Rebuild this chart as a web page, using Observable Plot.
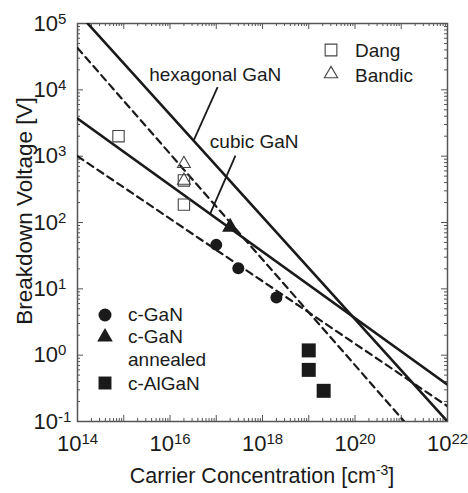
<!DOCTYPE html>
<html><head><meta charset="utf-8">
<script src="https://cdn.jsdelivr.net/npm/d3@7"></script>
<script src="https://cdn.jsdelivr.net/npm/@observablehq/plot@0.6"></script>
<style>
html,body{margin:0;padding:0;background:#fff;}
#chart{width:468px;height:493px;}
</style></head><body><div id="chart"></div>
<script>
// ---- data ----
const xTickLabels = [1e14, 1e16, 1e18, 1e20, 1e22];
const yTickLabels = [1e-1, 1e0, 1e1, 1e2, 1e3, 1e4, 1e5];

const hexN = [1e14, 1e22];        const hexV = [148000, 0.1];
const cubicN = [1e14, 1e22];      const cubicV = [3700, 0.36];
const dashUpperN = [1e14, 1e22];  const dashUpperV = [42700, 0.018];
const dashLowerN = [1e14, 1e22];  const dashLowerV = [1000, 0.17];

const dangN = [7.7e14, 2e16, 2e16];     const dangV = [2000, 430, 186];
const bandicN = [2e16, 2e16];           const bandicV = [770, 430];
const cGaN_N = [1e17, 3e17, 2e18];      const cGaN_V = [46, 20.5, 7.4];
const annealN = [2e17];                 const annealV = [85];
const alGaN_N = [1e19, 1e19, 2.1e19];   const alGaN_V = [1.18, 0.6, 0.29];

const curveLabels = ["hexagonal GaN", "cubic GaN"];
const curveLabelN = [9.5e16, 6.6e17];   const curveLabelV = [17000, 1620];
const leaderN1 = [1.07e17, 2.6e17];     const leaderV1 = [11000, 1020];
const leaderN2 = [3.24e16, 7.5e16];     const leaderV2 = [1720, 138];

const legendTop = ["Dang", "Bandic"];
const legendBottom = ["c-GaN", "c-GaN", "annealed", "c-AlGaN"];

// ---- layout ----
const W = 468, H = 493, ML = 77, MR = 21, MT = 23, MB = 72;
const PW = W - ML - MR, PH = H - MT - MB;
const FONT = '"Liberation Sans", Arial, Helvetica, sans-serif';
const INK = "#1a1a1a", AX = "#555";

const pts = (N, V) => N.map((n, i) => ({n, v: V[i]}));
const decades = (a, b) => d3.range(a, b + 1).map(e => Math.pow(10, e));
const minors = (a, b) => d3.range(a, b).flatMap(e => d3.range(2, 10).map(k => k * Math.pow(10, e)));
const xMaj = decades(14, 22), xMin = minors(14, 22);
const yMaj = decades(-1, 5), yMin = minors(-1, 5);
const fmt = d => "10^" + Math.round(Math.log10(d));

const plot = Plot.plot({
  width: W, height: H,
  marginLeft: ML, marginRight: MR, marginTop: MT, marginBottom: MB,
  style: {fontFamily: FONT, background: "#fff", color: INK},
  x: {type: "log", domain: [1e14, 1e22], axis: null},
  y: {type: "log", domain: [1e-1, 1e5], axis: null},
  marks: [
    // ticks (inward, all four sides)
    Plot.tickX(xMaj, {x: d => d, insetTop: PH - 6, stroke: AX}),
    Plot.tickX(xMin, {x: d => d, insetTop: PH - 3, stroke: AX}),
    Plot.tickX(xMaj, {x: d => d, insetBottom: PH - 6, stroke: AX}),
    Plot.tickX(xMin, {x: d => d, insetBottom: PH - 3, stroke: AX}),
    Plot.tickY(yMaj, {y: d => d, insetRight: PW - 6, stroke: AX}),
    Plot.tickY(yMin, {y: d => d, insetRight: PW - 3, stroke: AX}),
    Plot.tickY(yMaj, {y: d => d, insetLeft: PW - 6, stroke: AX}),
    Plot.tickY(yMin, {y: d => d, insetLeft: PW - 3, stroke: AX}),
    Plot.frame({stroke: AX, strokeWidth: 1.5}),
    // tick labels
    Plot.text(xTickLabels, {x: d => d, frameAnchor: "bottom", dy: 29, text: fmt, fontSize: 22, fill: INK}),
    Plot.text(yTickLabels, {y: d => d, frameAnchor: "left", dx: -44, textAnchor: "start", text: fmt, fontSize: 22, fill: INK}),
    // model lines
    Plot.line(pts(dashUpperN, dashUpperV), {x: "n", y: "v", stroke: INK, strokeWidth: 2.2, strokeDasharray: "7,5", clip: true}),
    Plot.line(pts(dashLowerN, dashLowerV), {x: "n", y: "v", stroke: INK, strokeWidth: 2.2, strokeDasharray: "7,5", clip: true}),
    Plot.line(pts(hexN, hexV), {x: "n", y: "v", stroke: INK, strokeWidth: 2.6, clip: true}),
    Plot.line(pts(cubicN, cubicV), {x: "n", y: "v", stroke: INK, strokeWidth: 2.6, clip: true}),
    // annotation leaders and labels
    Plot.link(leaderN1.map((n, i) => ({x1: n, y1: leaderV1[i], x2: leaderN2[i], y2: leaderV2[i]})),
      {x1: "x1", y1: "y1", x2: "x2", y2: "y2", stroke: INK, strokeWidth: 1.8}),
    Plot.text(curveLabels.map((t, i) => ({t, n: curveLabelN[i], v: curveLabelV[i]})),
      {x: "n", y: "v", text: "t", fontSize: 19, fill: INK}),
    // data points
    Plot.dot(pts(dangN, dangV), {x: "n", y: "v", symbol: "square", r: 6.4, fill: "none", stroke: "#444", strokeWidth: 1.1}),
    Plot.dot(pts(bandicN, bandicV), {x: "n", y: "v", symbol: "triangle", r: 4.8, fill: "none", stroke: "#444", strokeWidth: 1.1}),
    Plot.dot(pts(cGaN_N, cGaN_V), {x: "n", y: "v", symbol: "circle", r: 6, fill: INK}),
    Plot.dot(pts(annealN, annealV), {x: "n", y: "v", symbol: "triangle", r: 6, fill: INK}),
    Plot.dot(pts(alGaN_N, alGaN_V), {x: "n", y: "v", symbol: "square", r: 7.9, fill: INK})
  ]
});

// superscripts for 10^k labels
d3.select(plot).selectAll("text").each(function () {
  const m = /^10\^(-?\d+)$/.exec(this.textContent);
  if (!m) return;
  const t = d3.select(this);
  t.text("");
  t.append("tspan").text("10");
  t.append("tspan").attr("font-size", 15).attr("dy", -7).text(m[1]);
});

const svg = d3.select(plot);
// axis titles
const xt = svg.append("text").attr("x", ML + PW / 2).attr("y", 483).attr("text-anchor", "middle")
  .attr("font-size", 21.5).attr("fill", INK).attr("font-family", FONT);
xt.append("tspan").text("Carrier Concentration [cm");
xt.append("tspan").attr("font-size", 14).attr("dy", -8).text("-3");
xt.append("tspan").attr("dy", 8).text("]");
svg.append("text").attr("transform", "translate(32,211) rotate(-90)").attr("text-anchor", "middle")
  .attr("font-size", 22.5).attr("fill", INK).attr("font-family", FONT).text("Breakdown Voltage [V]");

// legends
const sym = (type, r) => d3.symbol(type, Math.PI * r * r)();
const lg = svg.append("g").attr("font-family", FONT).attr("font-size", 19).attr("fill", INK)
  .attr("text-anchor", "start");
const mk = (type, r, x, y, open) => lg.append("path").attr("d", sym(type, r))
  .attr("transform", `translate(${x},${y})`)
  .attr("fill", open ? "none" : INK).attr("stroke", open ? "#444" : "none").attr("stroke-width", 1.1);
const tx = (s, x, y) => lg.append("text").attr("x", x).attr("y", y).attr("text-anchor", "start").text(s);
mk(d3.symbolSquare, 6.6, 331, 50, true);
mk(d3.symbolTriangle, 4.9, 331, 74, true);
tx(legendTop[0], 355, 57);
tx(legendTop[1], 355, 82);
mk(d3.symbolCircle, 6.5, 105, 315, false);
mk(d3.symbolTriangle, 5.8, 105, 337, false);
mk(d3.symbolSquare, 7.3, 105, 383, false);
tx(legendBottom[0], 128, 321);
tx(legendBottom[1], 128, 343);
tx(legendBottom[2], 128, 366);
tx(legendBottom[3], 128, 390);

document.getElementById("chart").appendChild(plot);
</script></body></html>
